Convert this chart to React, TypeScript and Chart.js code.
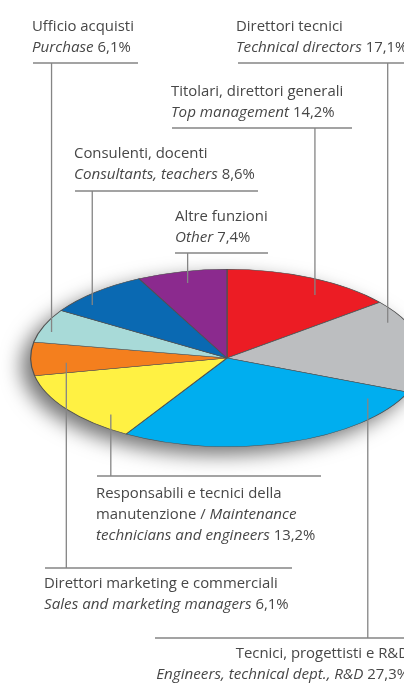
import React, { useEffect, useRef } from 'react';
import { Chart, registerables } from 'chart.js';

Chart.register(...registerables);

// ---- Data ----
const categoriesIt: string[][] = [
  ['Titolari, direttori generali'],
  ['Direttori tecnici'],
  ['Tecnici, progettisti e R&D'],
  ['Responsabili e tecnici della', 'manutenzione'],
  ['Direttori marketing e commerciali'],
  ['Ufficio acquisti'],
  ['Consulenti, docenti'],
  ['Altre funzioni'],
];
const categoriesEn: string[][] = [
  ['Top management'],
  ['Technical directors'],
  ['Engineers, technical dept., R&D'],
  ['Maintenance', 'technicians and engineers'],
  ['Sales and marketing managers'],
  ['Purchase'],
  ['Consultants, teachers'],
  ['Other'],
];
const shares = [14.2, 17.1, 27.3, 13.2, 6.1, 6.1, 8.6, 7.4];
const sliceColors = ['#ec1c24', '#bcbec0', '#00aeef', '#fff143', '#f47f1e', '#a8dad8', '#0a69b2', '#8b2a8e'];

// ---- Layout (label placement only) ----
const K = 89 / 197; // vertical squash of the tilted pie
const LINE_H = 21;
const FONT_SIZE = 14.9;
const ITALIC_SIZE = 15.2;
type LabelLayout = { x: number; base: number; align: 'left' | 'right'; uy: number; ux1: number; ux2: number; t: number; f: number };
const labelLayout: LabelLayout[] = [
  { x: 171, base: 96, align: 'left', uy: 128, ux1: 172, ux2: 352, t: 0.63, f: 0.84 },
  { x: 236, base: 31, align: 'left', uy: 63, ux1: 238, ux2: 460, t: 0.21, f: 0.91 },
  { x: 409, base: 658, align: 'right', uy: 638, ux1: 155, ux2: 460, t: 0.1, f: 0.85 },
  { x: 96, base: 498, align: 'left', uy: 476, ux1: 97, ux2: 321, t: 0.25, f: 0.87 },
  { x: 44, base: 588, align: 'left', uy: 568, ux1: 45, ux2: 292, t: 0.35, f: 0.82 },
  { x: 32, base: 31, align: 'left', uy: 63, ux1: 33, ux2: 138, t: 0.35, f: 0.94 },
  { x: 74, base: 158, align: 'left', uy: 191, ux1: 75, ux2: 258, t: 0.28, f: 0.91 },
  { x: 175, base: 221, align: 'left', uy: 253, ux1: 175, ux2: 268, t: 0.5, f: 0.87 },
];

type Seg = { s: string; it: boolean };
const pct = (v: number) => ' ' + v.toFixed(1).replace('.', ',') + '%';

function buildLines(i: number): Seg[][] {
  const it = categoriesIt[i];
  const en = categoriesEn[i];
  const p = pct(shares[i]);
  if (it.length === 1) {
    return [[{ s: it[0], it: false }], [{ s: en[0], it: true }, { s: p, it: false }]];
  }
  return [
    [{ s: it[0], it: false }],
    [{ s: it[1] + ' / ', it: false }, { s: en[0], it: true }],
    [{ s: en[1], it: true }, { s: p, it: false }],
  ];
}

const ellipsePlugin = {
  id: 'ellipse',
  beforeDatasetsDraw(chart: any) {
    const ctx = chart.ctx as CanvasRenderingContext2D;
    const arc = chart.getDatasetMeta(0).data[0] as any;
    const { x, y, outerRadius } = arc;
    ctx.save();
    ctx.save();
    ctx.shadowColor = 'rgba(0,0,0,0.55)';
    ctx.shadowBlur = 20;
    ctx.shadowOffsetX = -9;
    ctx.shadowOffsetY = 8;
    ctx.beginPath();
    ctx.ellipse(x, y, outerRadius, outerRadius * K, 0, 0, Math.PI * 2);
    ctx.fillStyle = '#999';
    ctx.fill();
    ctx.restore();
    ctx.translate(x, y);
    ctx.scale(1, K);
    ctx.translate(-x, -y);
  },
  afterDatasetsDraw(chart: any) {
    chart.ctx.restore();
  },
};

const labelPlugin = {
  id: 'leaderLabels',
  afterDraw(chart: any) {
    const ctx = chart.ctx as CanvasRenderingContext2D;
    const arcs = chart.getDatasetMeta(0).data as any[];
    ctx.save();
    arcs.forEach((arc, i) => {
      const L = labelLayout[i];
      const a = arc.startAngle + L.t * (arc.endAngle - arc.startAngle);
      const px = arc.x + L.f * arc.outerRadius * Math.cos(a);
      const py = arc.y + K * L.f * arc.outerRadius * Math.sin(a);
      ctx.strokeStyle = '#858585';
      ctx.lineWidth = 1.3;
      ctx.beginPath();
      ctx.moveTo(L.ux1, L.uy);
      ctx.lineTo(L.ux2, L.uy);
      ctx.moveTo(px, L.uy);
      ctx.lineTo(px, py);
      ctx.stroke();

      const lines = buildLines(i);
      ctx.fillStyle = '#474747';
      ctx.textBaseline = 'alphabetic';
      ctx.textAlign = 'left';
      lines.forEach((segs, li) => {
        const fontOf = (s: Seg) =>
          s.it ? `italic ${ITALIC_SIZE}px "Open Sans", sans-serif` : `${FONT_SIZE}px "Open Sans", sans-serif`;
        let total = 0;
        segs.forEach((s) => {
          ctx.font = fontOf(s);
          total += ctx.measureText(s.s).width;
        });
        let cx = L.align === 'right' ? L.x - total : L.x;
        const by = L.base + li * LINE_H;
        segs.forEach((s) => {
          ctx.font = fontOf(s);
          ctx.fillText(s.s, cx, by);
          cx += ctx.measureText(s.s).width;
        });
      });
    });
    ctx.restore();
  },
};

export default function App() {
  const ref = useRef<HTMLCanvasElement | null>(null);
  useEffect(() => {
    if (!ref.current) return;
    const chart = new Chart(ref.current, {
      type: 'pie',
      data: {
        labels: categoriesEn.map((e) => e.join(' ')),
        datasets: [
          {
            data: shares,
            backgroundColor: sliceColors,
            borderColor: '#505050',
            borderWidth: 1.2,
            clip: false as any,
          },
        ],
      },
      options: {
        responsive: false,
        animation: false,
        devicePixelRatio: 1,
        layout: { padding: { left: 30, right: 36, top: 161, bottom: 128 } },
        plugins: { legend: { display: false }, tooltip: { enabled: false } },
        events: [],
      },
      plugins: [ellipsePlugin, labelPlugin],
    });
    return () => chart.destroy();
  }, []);
  return (
    <div style={{ position: 'absolute', left: 0, top: 0, width: 404, height: 683, overflow: 'hidden', background: '#fff' }}>
      <canvas ref={ref} width={460} height={683} style={{ display: 'block' }} />
    </div>
  );
}
